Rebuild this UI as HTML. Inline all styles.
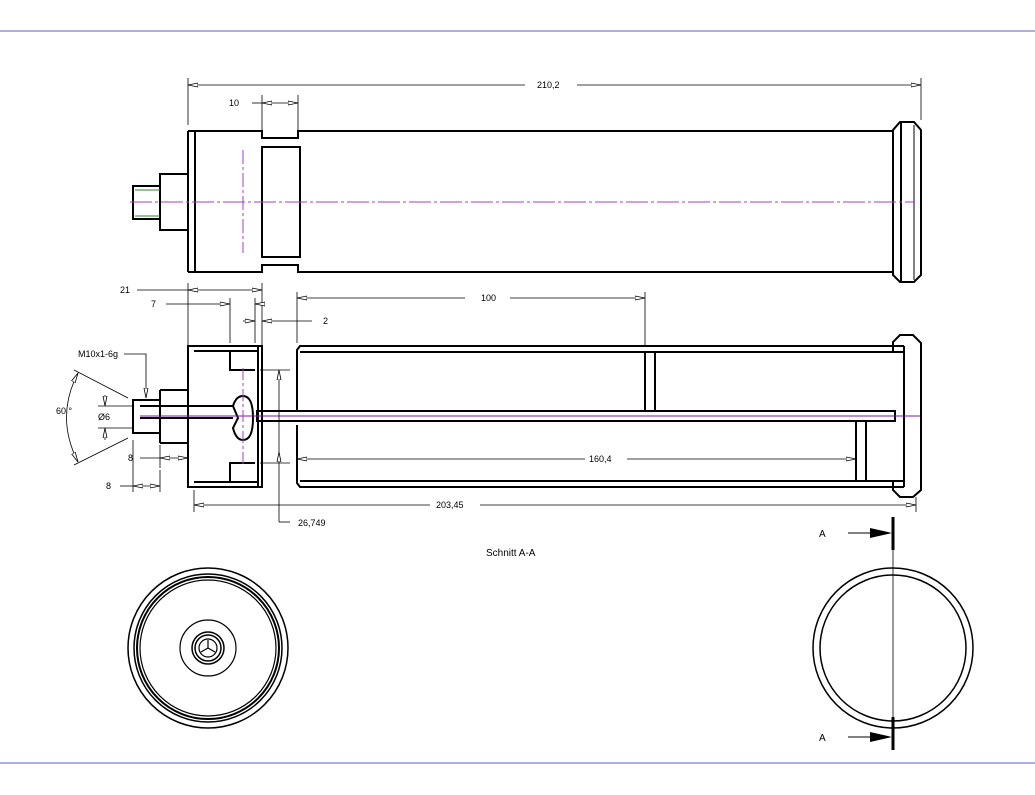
<!DOCTYPE html>
<html><head><meta charset="utf-8"><style>
html,body{margin:0;padding:0;background:#fff;}
svg{display:block;font-family:"Liberation Sans",sans-serif;}
text{font-size:9px;fill:#000;}
</style></head><body>
<svg width="1035" height="795" viewBox="0 0 1035 795" xmlns="http://www.w3.org/2000/svg">
<defs>
<marker id="ar" viewBox="0 0 10 6" refX="10" refY="3" markerWidth="10" markerHeight="6" orient="auto-start-reverse" markerUnits="userSpaceOnUse">
<path d="M0,1 L10,3 L0,5 Z" fill="#fff" stroke="#000" stroke-width="0.8"/></marker>
</defs>
<line x1="0" y1="31" x2="1035" y2="31" stroke="#5a5acd" stroke-width="1"/>
<line x1="0" y1="763" x2="1035" y2="763" stroke="#5a5acd" stroke-width="1"/>

<g fill="none" stroke="#000" stroke-width="2">
<path d="M133,186 H160 V219 H133 Z"/>
<path d="M160,174 H188 V230 H160 Z"/>
<path d="M188,131 H262 V138 H298 V131 H893 M188,272 H262 V265 H298 V272 H893"/>
<line x1="188" y1="131" x2="188" y2="272"/>
<line x1="195" y1="131" x2="195" y2="272"/>
<rect x="262" y="147" width="38" height="110"/>
<path d="M900,122 H914 L921,130 V275 L914,282 H900 L893,275 V130 Z"/>
<line x1="901" y1="122" x2="901" y2="282"/>
</g>
<line x1="914" y1="125" x2="914" y2="280" stroke="#000" stroke-width="1"/>
<line x1="135" y1="190" x2="160" y2="190" stroke="#2a8a2a" stroke-width="1"/>
<line x1="135" y1="216" x2="160" y2="216" stroke="#2a8a2a" stroke-width="1"/>
<line x1="130" y1="202" x2="915" y2="202" stroke="#a040c0" stroke-width="1" stroke-dasharray="22,3,3,3"/>
<line x1="243" y1="150" x2="243" y2="253" stroke="#a040c0" stroke-width="1" stroke-dasharray="14,3,3,3"/>

<g stroke="#000" stroke-width="0.8" fill="none">
<line x1="188" y1="78" x2="188" y2="125"/>
<line x1="921" y1="78" x2="921" y2="120"/>
<line x1="188" y1="85" x2="525" y2="85" marker-start="url(#ar)"/>
<line x1="577" y1="85" x2="921" y2="85" marker-end="url(#ar)"/>
<line x1="262" y1="95" x2="262" y2="130"/>
<line x1="298" y1="95" x2="298" y2="130"/>
<line x1="252" y1="103" x2="262" y2="103"/>
<line x1="262" y1="103" x2="298" y2="103" marker-start="url(#ar)" marker-end="url(#ar)"/>
</g>
<text x="537" y="88">210,2</text>
<text x="229" y="106">10</text>

<g fill="none" stroke="#000" stroke-width="2">
<path d="M133,400 H160 V433 H133 Z"/>
<path d="M160,390 H188 M160,443 H188 M160,390 V443"/>
<path d="M188,346 H262 V487 H188 Z"/>
<line x1="258" y1="346" x2="258" y2="487"/>
<line x1="194" y1="351" x2="258" y2="351"/>
<line x1="194" y1="482" x2="258" y2="482"/>
<path d="M230,351 V370 H255"/>
<path d="M230,482 V463 H255"/>
<path d="M140,406 H233 M140,418 H233"/>
<path d="M233,406 Q236,396 243,396 Q253,396 253,418 Q253,440 243,440 Q236,440 233,428 L238,418 Z"/>
<path d="M297,410 V350 L300,346 H904 M297,425 V483 L300,487 H904"/>
<line x1="300" y1="352" x2="904" y2="352"/>
<line x1="300" y1="481" x2="904" y2="481"/>
<rect x="257" y="411" width="638" height="10"/>
<line x1="645" y1="352" x2="645" y2="411"/>
<line x1="655" y1="352" x2="655" y2="411"/>
<line x1="856" y1="421" x2="856" y2="481"/>
<line x1="866" y1="421" x2="866" y2="481"/>
<path d="M893,351 V342 L900,335 H913 L921,343 V490 L913,497 H900 L893,490 V482"/>
<line x1="904" y1="346" x2="904" y2="487"/>
</g>
<line x1="140" y1="416" x2="920" y2="416" stroke="#7a1a9a" stroke-width="1"/>
<line x1="243" y1="368" x2="243" y2="465" stroke="#a040c0" stroke-width="1" stroke-dasharray="12,3,3,3"/>

<g stroke="#000" stroke-width="0.8" fill="none">
<line x1="188" y1="283" x2="188" y2="345"/>
<line x1="262" y1="283" x2="262" y2="345"/>
<line x1="137" y1="290" x2="188" y2="290"/>
<line x1="188" y1="290" x2="262" y2="290" marker-start="url(#ar)" marker-end="url(#ar)"/>
<line x1="230" y1="298" x2="230" y2="343"/>
<line x1="166" y1="304" x2="230" y2="304" marker-end="url(#ar)"/>
<line x1="255" y1="298" x2="255" y2="343"/>
<line x1="255" y1="304" x2="265" y2="304" marker-start="url(#ar)"/>
<line x1="243" y1="321" x2="255" y2="321" marker-end="url(#ar)"/>
<line x1="312" y1="321" x2="262" y2="321" marker-end="url(#ar)"/>
<line x1="297" y1="292" x2="297" y2="343"/>
<line x1="645" y1="292" x2="645" y2="345"/>
<line x1="297" y1="298" x2="465" y2="298" marker-start="url(#ar)"/>
<line x1="510" y1="298" x2="645" y2="298" marker-end="url(#ar)"/>
<line x1="260" y1="370" x2="290" y2="370"/>
<line x1="260" y1="463" x2="290" y2="463"/>
<line x1="279" y1="370" x2="279" y2="522" marker-start="url(#ar)"/>
<line x1="279" y1="463" x2="279" y2="452" marker-end="url(#ar)"/>
<line x1="279" y1="522" x2="290" y2="522"/>
<line x1="297" y1="459" x2="585" y2="459" marker-start="url(#ar)"/>
<line x1="627" y1="459" x2="856" y2="459" marker-end="url(#ar)"/>
<line x1="194" y1="490" x2="194" y2="512"/>
<line x1="916" y1="497" x2="916" y2="512"/>
<line x1="194" y1="505" x2="430" y2="505" marker-start="url(#ar)"/>
<line x1="480" y1="505" x2="916" y2="505" marker-end="url(#ar)"/>
<line x1="140" y1="458" x2="160" y2="458"/>
<line x1="160" y1="458" x2="188" y2="458" marker-start="url(#ar)" marker-end="url(#ar)"/>
<line x1="160" y1="445" x2="160" y2="468"/>
<line x1="133" y1="440" x2="133" y2="492"/>
<line x1="120" y1="486" x2="133" y2="486"/>
<line x1="133" y1="486" x2="160" y2="486" marker-start="url(#ar)" marker-end="url(#ar)"/>
<line x1="160" y1="470" x2="160" y2="492"/>
<line x1="98" y1="406" x2="133" y2="406"/>
<line x1="98" y1="428" x2="133" y2="428"/>
<line x1="105" y1="395" x2="105" y2="406" marker-end="url(#ar)"/>
<line x1="105" y1="440" x2="105" y2="428" marker-end="url(#ar)"/>
<line x1="74" y1="370" x2="128" y2="398"/>
<line x1="74" y1="465" x2="128" y2="438"/>
<path d="M78,373 Q55,417 78,462" marker-start="url(#ar)" marker-end="url(#ar)"/>
<path d="M124,354 H146 V398" marker-end="url(#ar)"/>
</g>
<text x="120" y="293">21</text>
<text x="151" y="307">7</text>
<text x="323" y="324">2</text>
<text x="481" y="301">100</text>
<text x="589" y="462">160,4</text>
<text x="436" y="508">203,45</text>
<text x="298" y="526">26,749</text>
<text x="128" y="461">8</text>
<text x="106" y="489">8</text>
<text x="56" y="414">60 °</text>
<text x="98" y="420">Ø6</text>
<text x="78" y="357">M10x1-6g</text>
<text x="486" y="556" style="font-size:10px">Schnitt A-A</text>

<g fill="none" stroke="#000">
<circle cx="208" cy="648" r="80" stroke-width="1.5"/>
<circle cx="208" cy="648" r="74" stroke-width="1.5"/>
<circle cx="208" cy="648" r="71" stroke-width="2"/>
<circle cx="208" cy="648" r="68" stroke-width="1.2"/>
<circle cx="208" cy="648" r="28" stroke-width="1.2"/>
<circle cx="208" cy="648" r="16" stroke-width="1.5"/>
<circle cx="208" cy="648" r="13" stroke-width="1.5"/>
<circle cx="208" cy="648" r="9" stroke-width="1.2"/>
<path d="M208,648 V640 M208,648 L201,652 M208,648 L215,652" stroke-width="1.2"/>
</g>

<g fill="none" stroke="#000">
<circle cx="893" cy="648" r="80" stroke-width="1.5"/>
<circle cx="893" cy="648" r="73" stroke-width="1.5"/>
<line x1="893" y1="550" x2="893" y2="717" stroke-width="0.8"/>
<line x1="893" y1="517" x2="893" y2="550" stroke-width="3"/>
<line x1="893" y1="717" x2="893" y2="750" stroke-width="3"/>
<line x1="848" y1="533" x2="872" y2="533" stroke-width="1"/>
<line x1="848" y1="737" x2="872" y2="737" stroke-width="1"/>
</g>
<path d="M870,528 L892,533 L870,538 Z" fill="#000"/>
<path d="M870,732 L892,737 L870,742 Z" fill="#000"/>
<text x="819" y="537" style="font-size:10px">A</text>
<text x="819" y="741" style="font-size:10px">A</text>
</svg>
</body></html>
